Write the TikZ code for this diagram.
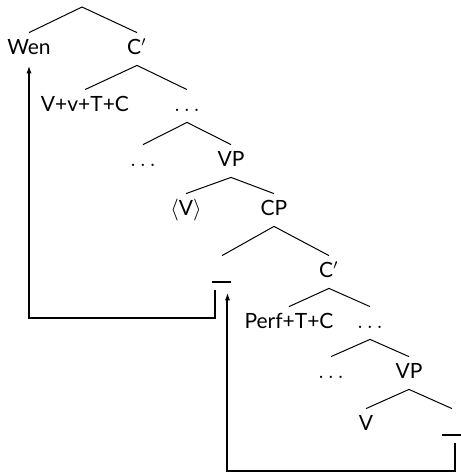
\documentclass[tikz,border=0pt]{standalone}
\usepackage{fontspec}
\setmainfont{Lato}
\usepackage{tikz}
\usetikzlibrary{arrows.meta, positioning}
\newcommand{\trc}{\rule[-3pt]{9.5pt}{1pt}}

\begin{document}
\begin{tikzpicture}[x=0.5pt, y=-0.5pt,
    every node/.style={font=\fontsize{10.5}{12}\selectfont},
    cat/.style = {anchor=base, inner xsep=0pt, inner ysep=3pt,
                  text height=7.5pt, text depth=2.5pt},
    br/.style = {line width=0.5pt},
    mov/.style = {-{Latex[length=4pt,width=2.6pt]}, line width=1pt}
]
\useasboundingbox (0,0) rectangle (461,473);

\coordinate (top) at (82,7);
\node (wen)   [cat] at (29,54)  {Wen};
\node (cb1)   [cat] at (137,54) {C$'$};
\node (vvtc)  [cat] at (85,111) {V+v+T+C};
\node (dt1)   [cat] at (187,111) {$\ldots$};
\node (dt2)   [cat] at (143,166) {$\ldots$};
\node (vp1)   [cat] at (231,166) {VP};
\node (vcopy) [cat] at (186,215) {$\langle$V$\rangle$};
\node (cp)    [cat] at (274,215) {CP};
\node (tr1)   [cat] at (222,277) {\trc};
\node (cb2)   [cat] at (329,277) {C$'$};
\node (perf)  [cat] at (289,328) {Perf+T+C};
\node (dt3)   [cat] at (370,328) {$\ldots$};
\node (dt4)   [cat] at (331,378) {$\ldots$};
\node (vp2)   [cat] at (409,378) {VP};
\node (vb)    [cat] at (366,430) {V};
\node (tr2)   [cat] at (452,430) {\trc};

% branches
\draw[br] (wen.north) -- (top) -- (cb1.north);
\draw[br] (vvtc.north) -- (cb1.south) -- (dt1.north);
\draw[br] (dt2.north) -- (dt1.south) -- (vp1.north);
\draw[br] (vcopy.north) -- (vp1.south) -- (cp.north);
\draw[br] (tr1.north) -- (cp.south) -- (cb2.north);
\draw[br] (perf.north) -- (cb2.south) -- (dt3.north);
\draw[br] (dt4.north) -- (dt3.south) -- (vp2.north);
\draw[br] (vb.north) -- (vp2.south) -- (tr2.north);

% movement
\draw[mov] ([xshift=-3.25pt, yshift=-1pt]tr1.south) -- ++(0,28) -| (wen.south);
\draw[mov] ([xshift=1.5pt, yshift=-1pt]tr2.south) -- ++(0,28) -| ([xshift=2.75pt, yshift=-2pt]tr1.south);

\end{tikzpicture}
\end{document}
